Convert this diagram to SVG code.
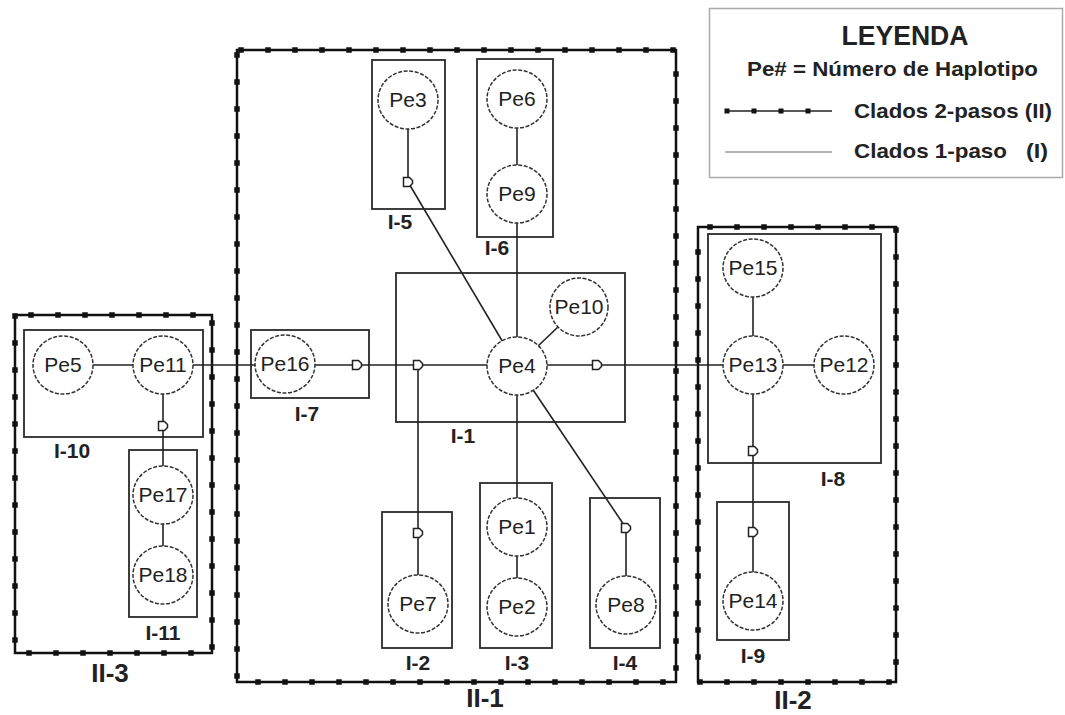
<svg xmlns="http://www.w3.org/2000/svg" width="1065" height="715" viewBox="0 0 1065 715">
<style>
.bg{fill:#fff}
.clade2{fill:none;stroke:#111;stroke-width:2.5}
.dots{fill:none;stroke:#111;stroke-width:5.5;stroke-dasharray:0 27;stroke-linecap:square}
.clade1{fill:none;stroke:#2a2a2a;stroke-width:1.8}
.conn line{stroke:#222;stroke-width:1.6}
.hap ellipse{fill:#fff;stroke:#333;stroke-width:1.5;stroke-dasharray:4 1.6}
.hap text{font-family:"Liberation Sans",Arial,sans-serif;font-size:21px;fill:#222;text-anchor:middle}
.lab1{font-family:"Liberation Sans",Arial,sans-serif;font-size:21px;font-weight:bold;fill:#222;text-anchor:middle}
.lab2{font-family:"Liberation Sans",Arial,sans-serif;font-size:26px;font-weight:bold;fill:#222;text-anchor:middle}
.leg{font-family:"Liberation Sans",Arial,sans-serif;font-weight:bold;fill:#222}
.inter{fill:#fff;stroke:#222;stroke-width:1.5}
</style>
<defs>
<path id="sq" d="M-4.5,-4.5 H1.5 L4.5,-1.5 V1.5 L1.5,4.5 H-4.5 Z"/>
</defs>
<rect class="bg" x="0" y="0" width="1065" height="715"/>

<!-- Legend -->
<g id="legend">
<rect x="709.5" y="8.5" width="353" height="169" fill="#fff" stroke="#aaa" stroke-width="1.5"/>
<text class="leg" x="905" y="45" font-size="27" text-anchor="middle" textLength="127" lengthAdjust="spacingAndGlyphs">LEYENDA</text>
<text class="leg" x="747" y="76" font-size="21" textLength="291" lengthAdjust="spacingAndGlyphs">Pe# = Número de Haplotipo</text>
<line x1="725" y1="111" x2="832" y2="111" stroke="#222" stroke-width="1.4"/>
<path d="M727,111 H812" fill="none" stroke="#111" stroke-width="5" stroke-dasharray="0 27" stroke-linecap="square"/>
<text class="leg" x="854" y="118" font-size="21" textLength="198" lengthAdjust="spacingAndGlyphs">Clados 2-pasos (II)</text>
<line x1="725" y1="152" x2="832" y2="152" stroke="#999" stroke-width="1.4"/>
<text class="leg" x="854" y="158" font-size="21" textLength="153" lengthAdjust="spacingAndGlyphs">Clados 1-paso</text>
<text class="leg" x="1026" y="158" font-size="21" textLength="22" lengthAdjust="spacingAndGlyphs">(I)</text>
</g>

<!-- 2-step clades -->
<g id="II-1">
<rect class="clade2" x="237" y="50" width="439" height="632"/>
<path class="dots" d="M237,55 V682 H676 V50 H237"/>
<text class="lab2" x="485" y="707">II-1</text>
</g>
<g id="II-2">
<rect class="clade2" x="698" y="227" width="198" height="455"/>
<path class="dots" d="M710,227 H896 V682 H698 V227"/>
<text class="lab2" x="793" y="709">II-2</text>
</g>
<g id="II-3">
<rect class="clade2" x="15" y="315" width="197" height="338"/>
<path class="dots" d="M15,316 V653 H212 V315 H15"/>
<text class="lab2" x="110" y="682">II-3</text>
</g>

<!-- 1-step clades -->
<g id="I-1"><rect class="clade1" x="396" y="273" width="229" height="149"/><text class="lab1" x="463" y="443">I-1</text></g>
<g id="I-2"><rect class="clade1" x="382" y="512" width="70" height="136"/><text class="lab1" x="418" y="670">I-2</text></g>
<g id="I-3"><rect class="clade1" x="480" y="483" width="72" height="165"/><text class="lab1" x="517" y="670">I-3</text></g>
<g id="I-4"><rect class="clade1" x="590" y="498" width="70" height="150"/><text class="lab1" x="625" y="670">I-4</text></g>
<g id="I-5"><rect class="clade1" x="372" y="60" width="73" height="149"/><text class="lab1" x="400" y="229">I-5</text></g>
<g id="I-6"><rect class="clade1" x="477" y="59" width="76" height="178"/><text class="lab1" x="497" y="255">I-6</text></g>
<g id="I-7"><rect class="clade1" x="251" y="330" width="118" height="68"/><text class="lab1" x="307" y="421">I-7</text></g>
<g id="I-8"><rect class="clade1" x="708" y="234" width="173" height="229"/><text class="lab1" x="833" y="486">I-8</text></g>
<g id="I-9"><rect class="clade1" x="717" y="502" width="72" height="138"/><text class="lab1" x="753" y="663">I-9</text></g>
<g id="I-10"><rect class="clade1" x="24" y="330" width="179" height="107"/><text class="lab1" x="72" y="458">I-10</text></g>
<g id="I-11"><rect class="clade1" x="129" y="450" width="68" height="167"/><text class="lab1" x="163" y="640">I-11</text></g>

<!-- connectors -->
<g id="connectors" class="conn">
<line x1="163" y1="365" x2="723" y2="365"/>
<line x1="63" y1="365" x2="163" y2="365"/>
<line x1="163" y1="365" x2="163" y2="575"/>
<line x1="408" y1="100" x2="408" y2="182"/>
<line x1="408" y1="182" x2="517" y2="366"/>
<line x1="517" y1="99" x2="517" y2="607"/>
<line x1="517" y1="366" x2="579" y2="307"/>
<line x1="517" y1="366" x2="626" y2="528"/>
<line x1="626" y1="528" x2="626" y2="605"/>
<line x1="418" y1="365" x2="418" y2="604"/>
<line x1="723" y1="365" x2="844" y2="365"/>
<line x1="753" y1="268" x2="753" y2="601"/>
</g>

<!-- haplotypes -->
<g id="Pe1" class="hap"><ellipse cx="517" cy="527" rx="30" ry="29"/><text x="517" y="534">Pe1</text></g>
<g id="Pe2" class="hap"><ellipse cx="517" cy="607" rx="30" ry="29"/><text x="517" y="614">Pe2</text></g>
<g id="Pe3" class="hap"><ellipse cx="408" cy="100" rx="30" ry="29"/><text x="408" y="107">Pe3</text></g>
<g id="Pe4" class="hap"><ellipse cx="517" cy="366" rx="30" ry="29"/><text x="517" y="373">Pe4</text></g>
<g id="Pe5" class="hap"><ellipse cx="63" cy="365" rx="30" ry="29"/><text x="63" y="372">Pe5</text></g>
<g id="Pe6" class="hap"><ellipse cx="517" cy="99" rx="30" ry="29"/><text x="517" y="106">Pe6</text></g>
<g id="Pe7" class="hap"><ellipse cx="418" cy="604" rx="30" ry="29"/><text x="418" y="611">Pe7</text></g>
<g id="Pe8" class="hap"><ellipse cx="626" cy="605" rx="30" ry="29"/><text x="626" y="612">Pe8</text></g>
<g id="Pe9" class="hap"><ellipse cx="517" cy="194" rx="30" ry="29"/><text x="517" y="201">Pe9</text></g>
<g id="Pe10" class="hap"><ellipse cx="579" cy="307" rx="29" ry="29"/><text x="579" y="314">Pe10</text></g>
<g id="Pe11" class="hap"><ellipse cx="163" cy="365" rx="30" ry="29"/><text x="163" y="372">Pe11</text></g>
<g id="Pe12" class="hap"><ellipse cx="844" cy="365" rx="30" ry="29"/><text x="844" y="372">Pe12</text></g>
<g id="Pe13" class="hap"><ellipse cx="753" cy="365" rx="30" ry="29"/><text x="753" y="372">Pe13</text></g>
<g id="Pe14" class="hap"><ellipse cx="753" cy="601" rx="30" ry="29"/><text x="753" y="608">Pe14</text></g>
<g id="Pe15" class="hap"><ellipse cx="753" cy="268" rx="30" ry="29"/><text x="753" y="275">Pe15</text></g>
<g id="Pe16" class="hap"><ellipse cx="285" cy="364" rx="30" ry="29"/><text x="285" y="371">Pe16</text></g>
<g id="Pe17" class="hap"><ellipse cx="163" cy="495" rx="30" ry="29"/><text x="163" y="502">Pe17</text></g>
<g id="Pe18" class="hap"><ellipse cx="163" cy="575" rx="30" ry="29"/><text x="163" y="582">Pe18</text></g>

<!-- intermediate (missing) haplotypes -->
<g id="m1"><use href="#sq" class="inter" x="408" y="182"/></g>
<g id="m2"><use href="#sq" class="inter" x="357" y="365"/></g>
<g id="m3"><use href="#sq" class="inter" x="418" y="365"/></g>
<g id="m4"><use href="#sq" class="inter" x="597" y="365"/></g>
<g id="m5"><use href="#sq" class="inter" x="418" y="533"/></g>
<g id="m6"><use href="#sq" class="inter" x="626" y="528"/></g>
<g id="m7"><use href="#sq" class="inter" x="163" y="426"/></g>
<g id="m8"><use href="#sq" class="inter" x="753" y="451"/></g>
<g id="m9"><use href="#sq" class="inter" x="753" y="532"/></g>
</svg>
